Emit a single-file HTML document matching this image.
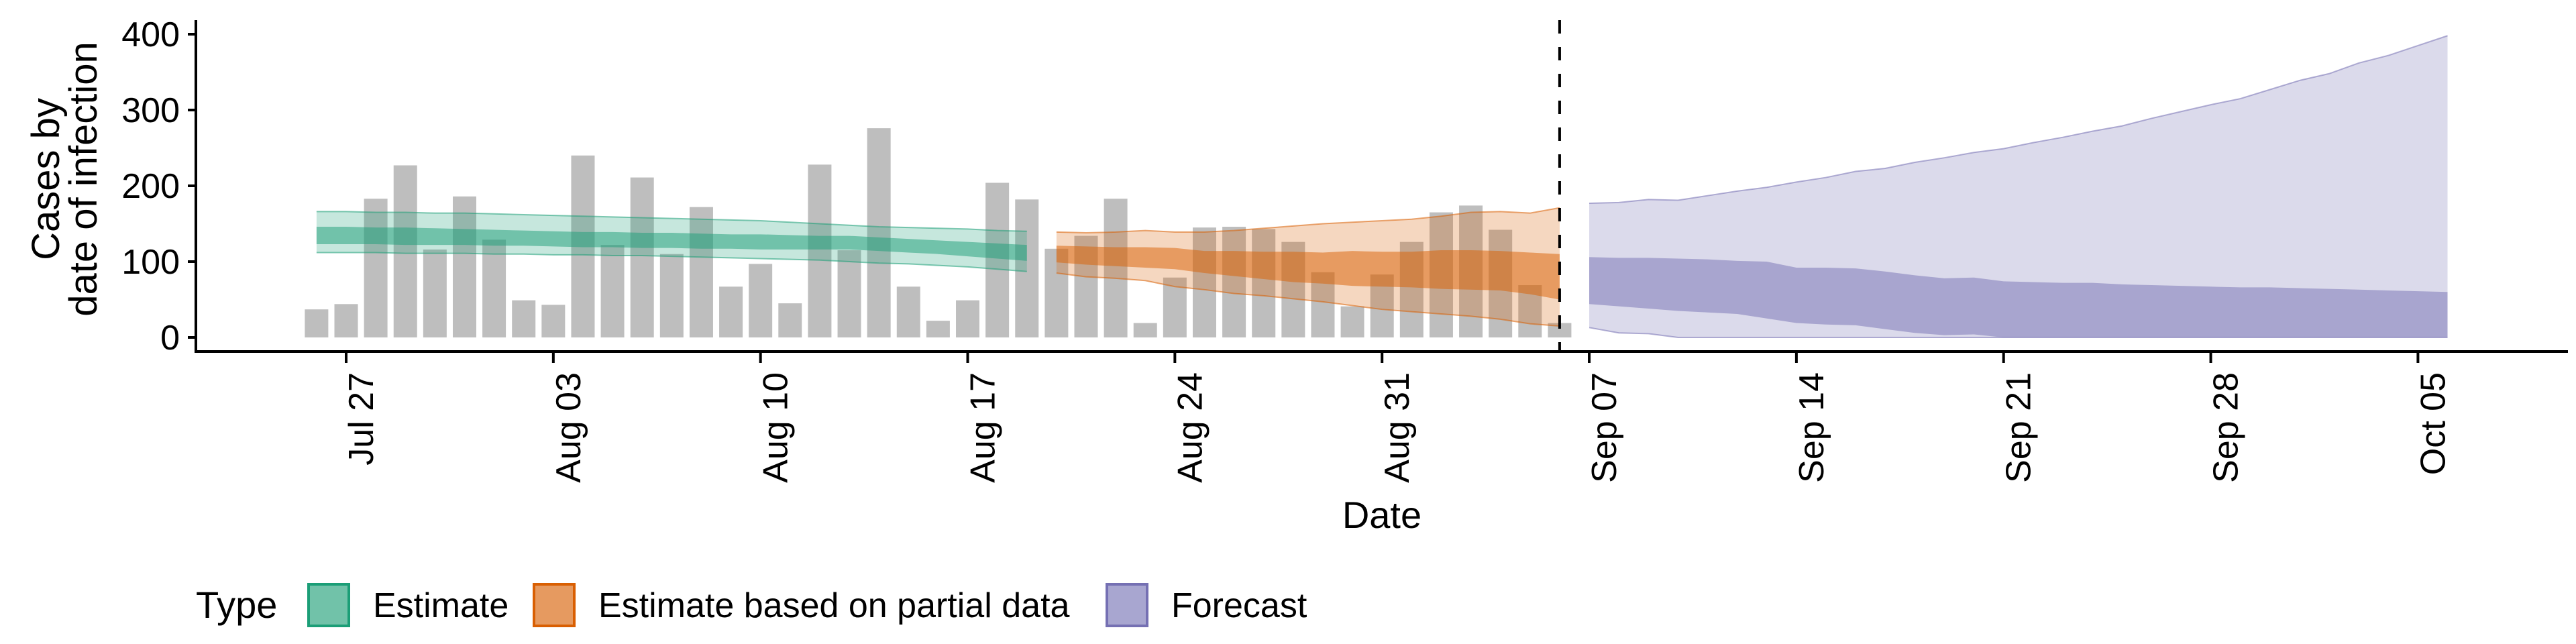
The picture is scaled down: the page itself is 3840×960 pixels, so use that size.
<!DOCTYPE html>
<html><head><meta charset="utf-8">
<style>
html,body{margin:0;padding:0;background:#fff;}
svg{display:block;font-family:"Liberation Sans",sans-serif;}
</style></head>
<body>
<svg id="chart" width="3840" height="960" viewBox="0 0 3840 960" xmlns="http://www.w3.org/2000/svg">
<g id="plot"></g>
</svg>
<script>
// ---- data ----
const barCases = [37,44,183,227,116,186,129,49,43,240,122,211,110,172,67,97,45,228,
  115,276,67,22,49,204,182,117,134,183,19,79,145,146,143,126,86,41,83,126,165,174,142,69,19];
// Estimate: Jul 26 .. Aug 19 (25 days)
const estOuterTop = [166,166,165,165,164,164,163,162,161,160,159,158,157,156,155,154,152,150,148,146,145,144,143,141,140];
const estOuterBot = [112,112,112,111,111,111,110,110,109,109,108,108,107,106,105,104,103,102,100,98,97,95,93,90,87];
const estInnerTop = [146,146,145,145,144,143,142,141,140,139,139,138,138,137,136,136,135,134,134,132,130,128,126,124,122];
const estInnerBot = [123,123,123,122,122,122,121,121,120,119,119,118,118,117,117,116,116,116,116,114,112,110,107,104,101];
// Estimate based on partial data: Aug 20 .. Sep 6 (18 days)
const parOuterTop = [139,138,139,141,139,139,141,144,147,150,152,154,156,160,165,166,164,171];
const parOuterBot = [85,80,78,75,67,63,58,55,51,47,42,37,34,31,28,24,18,15];
const parInnerTop = [121,120,119,119,118,114,114,113,113,112,114,113,113,115,115,114,112,110];
const parInnerBot = [99,96,94,92,90,85,81,77,73,71,68,67,66,64,63,62,57,50];
// Forecast: Sep 7 .. Oct 6 (30 days)
const fcOuterTop = [177,178,182,181,187,193,198,205,211,219,223,231,237,244,249,257,264,272,279,289,298,307,315,327,339,348,362,372,385,398];
const fcOuterBot = [13,6,5,0,0,0,0,0,0,0,0,0,0,0,0,0,0,0,0,0,0,0,0,0,0,0,0,0,0,0];
const fcInnerTop = [106,105,105,104,103,101,100,92,92,91,87,82,78,79,74,73,72,72,70,69,68,67,66,66,65,64,63,62,61,60];
const fcInnerBot = [44,41,38,35,33,31,25,19,17,16,11,6,3,4,0,0,0,0,0,0,0,0,0,0,0,0,0,0,0,0];
const yTicks = [0,100,200,300,400];
const xTickLabels = ["Jul 27","Aug 03","Aug 10","Aug 17","Aug 24","Aug 31","Sep 07","Sep 14","Sep 21","Sep 28","Oct 05"];

// ---- scales ---- day 0 = Jul 27
const X0 = 516, PX_DAY = 44.12;
const x = d => X0 + d * PX_DAY;
const y = v => 503 - v * 1.13;
const NS = "http://www.w3.org/2000/svg";
const g = document.getElementById('plot');
function el(tag, attrs, parent){ const e=document.createElementNS(NS,tag); for(const k in attrs) e.setAttribute(k,attrs[k]); (parent||g).appendChild(e); return e; }

// bars (first bar Jul 26 = day -1)
barCases.forEach((v,i)=>{
  const r = el('rect',{x:x(i-1)-17.5,y:y(v),width:35,height:y(0)-y(v),fill:'#bebebe'});
  
  
});

function band(top, bot, startDay, fill, name){
  let pts = top.map((v,i)=>x(startDay+i)+','+y(v));
  for(let i=bot.length-1;i>=0;i--) pts.push(x(startDay+i)+','+y(bot[i]));
  const p = el('polygon',{points:pts.join(' '),fill:fill});
  
  
  return p;
}
function edge(vals, startDay, stroke, name){
  const p = el('polyline',{points:vals.map((v,i)=>x(startDay+i)+','+y(v)).join(' '),fill:'none',stroke:stroke,'stroke-width':2});
  
  
}
band(estOuterTop, estOuterBot, -1, 'rgba(27,158,119,0.25)', 'estimate-outer-band');
edge(estOuterTop,-1,'rgba(27,158,119,0.55)','estimate-upper-edge');
edge(estOuterBot,-1,'rgba(27,158,119,0.55)','estimate-lower-edge');
band(estInnerTop, estInnerBot, -1, 'rgba(27,158,119,0.5)', 'estimate-inner-band');
band(parOuterTop, parOuterBot, 24, 'rgba(217,95,2,0.25)', 'partial-outer-band');
edge(parOuterTop,24,'rgba(217,95,2,0.55)','partial-upper-edge');
edge(parOuterBot,24,'rgba(217,95,2,0.55)','partial-lower-edge');
band(parInnerTop, parInnerBot, 24, 'rgba(217,95,2,0.5)', 'partial-inner-band');
band(fcOuterTop, fcOuterBot, 42, 'rgba(117,112,179,0.26)', 'forecast-outer-band');
edge(fcOuterTop,42,'rgba(117,112,179,0.55)','forecast-upper-edge');
edge(fcOuterBot,42,'rgba(117,112,179,0.55)','forecast-lower-edge');
band(fcInnerTop, fcInnerBot, 42, 'rgba(117,112,179,0.5)', 'forecast-inner-band');

// dashed line at last data date (Sep 6 = day 41)
const dl = el('line',{x1:x(41),x2:x(41),y1:30,y2:524,stroke:'#000','stroke-width':4,'stroke-dasharray':'20 20'});



// axes
const ya = el('line',{x1:292,x2:292,y1:30,y2:526,stroke:'#000','stroke-width':4});


const xa = el('line',{x1:290,x2:3828,y1:524,y2:524,stroke:'#000','stroke-width':4});



yTicks.forEach(v=>{
  const t = el('line',{x1:280,x2:292,y1:y(v),y2:y(v),stroke:'#000','stroke-width':4});
  
  
  const l = el('text',{x:268,y:y(v)+18,'text-anchor':'end','font-size':52,fill:'#000'});
  l.textContent = v;
  
  
});
xTickLabels.forEach((s,i)=>{
  const tx = x(i*7);
  const t = el('line',{x1:tx,x2:tx,y1:524,y2:541,stroke:'#000','stroke-width':4});
  
  
  const l = el('text',{x:0,y:0,'text-anchor':'end','font-size':52,fill:'#000',transform:`translate(${tx+40},555) rotate(-90)`});
  l.textContent = s;
  
  
});

// axis titles
const yt = el('text',{'text-anchor':'middle','font-size':58,fill:'#000',transform:'translate(88,267) rotate(-90)'});


const t1 = el('tspan',{x:0,y:0},yt); t1.textContent='Cases by';
const t2 = el('tspan',{x:0,y:56},yt); t2.textContent='date of infection';
const xt = el('text',{x:2060,y:787,'text-anchor':'middle','font-size':56,fill:'#000'});
xt.textContent='Date';



// legend
const lt = el('text',{x:292,y:921,'font-size':56,fill:'#000'});
lt.textContent='Type';


const legend = [
  {label:'Estimate',x:458,stroke:'#1b9e77',fill:'#71c2a9'},
  {label:'Estimate based on partial data',x:794,stroke:'#d95f02',fill:'#e69a60'},
  {label:'Forecast',x:1648,stroke:'#7570b3',fill:'#a8a6d0'}
];
legend.forEach(it=>{
  const r = el('rect',{x:it.x+2,y:871,width:60,height:62,fill:it.fill,stroke:it.stroke,'stroke-width':4});
  
  
  const t = el('text',{x:it.x+98,y:920,'font-size':52,fill:'#000'});
  t.textContent = it.label;
  
  
});
</script>
</body></html>
